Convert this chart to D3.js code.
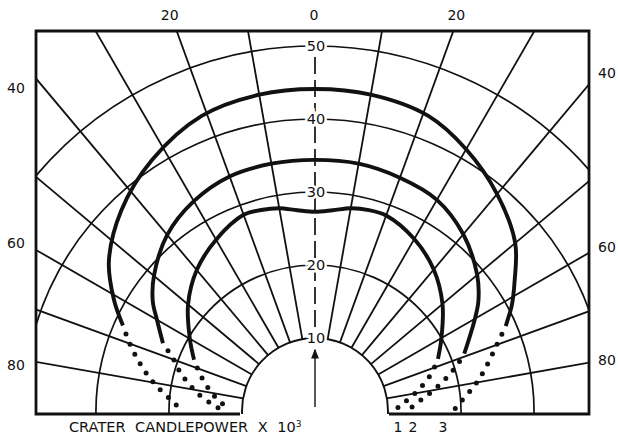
<!DOCTYPE html>
<html>
<head>
<meta charset="utf-8">
<script src="https://cdn.jsdelivr.net/npm/d3@7"></script>
<style>
  body { margin: 0; background: #fff; }
  text { font-family: "DejaVu Sans", sans-serif; fill: #111; }
</style>
</head>
<body>
<div id="chart"></div>
<script>
// grid values (candlepower x 10^3) and angles (degrees from the vertical)
const ringValues = [20, 30, 40, 50];
const ringLabels = [50, 40, 30, 20, 10];
const radialAngles = [-80, -70, -60, -50, -40, -30, -20, -10, 10, 20, 30, 40, 50, 60, 70, 80];
const topAngleLabels = [-20, 0, 20];
const sideAngleLabels = [40, 60, 80];
const curveNames = ['1', '2', '3'];

// curve 1 (inner)
const c1Angles = [-67, -60, -50, -40, -30, -20, -15, -10, -5, 0, 5, 10, 15, 20, 30, 40, 50, 60, 67];
const c1Values = [18.0, 19.8, 22.7, 25.2, 27.1, 28.6, 28.5, 28.2, 27.6, 27.3, 27.6, 28.2, 28.5, 28.5, 27.2, 25.3, 22.8, 20.0, 18.3];
const c1DotLeftAngles = [-67, -72, -77, -82, -86, -89];
const c1DotLeftValues = [18.0, 16.6, 15.2, 13.8, 12.6, 12.0];
const c1DotRightAngles = [67, 72, 77, 82, 86, 89];
const c1DotRightValues = [18.3, 16.8, 15.0, 13.2, 11.8, 11.0];

// curve 2 (middle)
const c2Angles = [-66, -60, -56, -50, -40, -30, -20, -10, 0, 10, 20, 30, 40, 50, 56, 60, 69];
const c2Values = [22.8, 25.0, 26.8, 28.8, 31.5, 33.2, 34.2, 34.4, 34.4, 34.4, 34.0, 33.4, 31.6, 29.0, 27.0, 25.3, 21.9];
const c2DotLeftAngles = [-66, -70, -74, -78, -82, -86, -89];
const c2DotLeftValues = [22.8, 20.6, 19.2, 17.6, 16.0, 14.2, 12.9];
const c2DotRightAngles = [69, 72, 76, 80, 84, 89];
const c2DotRightValues = [21.9, 20.5, 18.5, 16.5, 14.6, 12.9];

// curve 3 (outer)
const c3Angles = [-66, -61, -54, -44, -33, -21, -10, 0, 10, 21, 30, 40, 50, 57, 62, 66];
const c3Values = [28.8, 31.5, 34.9, 38.2, 41.0, 43.3, 44.0, 44.1, 44.0, 43.3, 41.4, 38.8, 35.8, 32.6, 30.5, 28.6];
const c3DotLeftAngles = [-66, -70, -74, -78, -82, -86, -89];
const c3DotLeftValues = [28.8, 27.0, 25.2, 23.4, 21.5, 19.6, 18.5];
const c3DotRightAngles = [66, 70, 74, 79, 83, 87, 89];
const c3DotRightValues = [28.6, 26.5, 24.8, 22.9, 21.3, 19.8, 19.2];

const w = 618, h = 440;
const frame = { left: 36, right: 589, top: 31, bottom: 414 };
const cx = 315, cy = 411;

const r = d3.scaleLinear().domain([0, 50]).range([0, 365]);
const a = d3.scaleLinear().domain([-180, 180]).range([-Math.PI, Math.PI]);

const svg = d3.select('#chart').append('svg')
  .attr('width', w).attr('height', h)
  .attr('viewBox', `0 0 ${w} ${h}`);

svg.append('clipPath').attr('id', 'frame-clip')
  .append('rect')
  .attr('x', frame.left).attr('y', frame.top)
  .attr('width', frame.right - frame.left)
  .attr('height', frame.bottom - frame.top);

const g = svg.append('g').attr('transform', `translate(${cx},${cy})`);
const grid = g.append('g').attr('clip-path', 'url(#frame-clip)')
  .attr('transform', `translate(${-cx},${-cy})`)
  .append('g').attr('transform', `translate(${cx},${cy})`);

const pt = (deg, v) => [r(v) * Math.sin(a(deg)), -r(v) * Math.cos(a(deg))];

// rings
const arc = d3.arc();
ringValues.forEach(v => {
  grid.append('path')
    .attr('d', arc({ innerRadius: r(v), outerRadius: r(v), startAngle: a(-100), endAngle: a(100) }))
    .attr('fill', 'none').attr('stroke', '#111').attr('stroke-width', 1.7);
});
// inner half circle (10)
grid.append('path')
  .attr('d', arc({ innerRadius: r(10), outerRadius: r(10), startAngle: a(-95), endAngle: a(95) }))
  .attr('fill', 'none').attr('stroke', '#111').attr('stroke-width', 1.9);

// radials
radialAngles.forEach(d => {
  const p0 = pt(d, 10), p1 = pt(d, 80);
  grid.append('line')
    .attr('x1', p0[0]).attr('y1', p0[1]).attr('x2', p1[0]).attr('y2', p1[1])
    .attr('stroke', '#111').attr('stroke-width', 1.8);
});

// dashed vertical axis
g.append('line')
  .attr('x1', 0).attr('x2', 0)
  .attr('y1', -r(48.5)).attr('y2', -r(10.8))
  .attr('stroke', '#111').attr('stroke-width', 1.7)
  .attr('stroke-dasharray', '17 6');

// frame
const fl = frame.left - cx, fr = frame.right - cx, ft = frame.top - cy, fb = frame.bottom - cy;
g.append('path')
  .attr('d', `M${-r(10) - 2},${fb} L${fl},${fb} L${fl},${ft} L${fr},${ft} L${fr},${fb} L${r(10) + 1},${fb}`)
  .attr('fill', 'none').attr('stroke', '#111').attr('stroke-width', 2.8);

// curves
const line = d3.lineRadial()
  .angle(d => a(d[0]))
  .radius(d => r(d[1]))
  .curve(d3.curveCatmullRom);

const zip = (as, vs) => as.map((d, i) => [d, vs[i]]);

const solids = [zip(c1Angles, c1Values), zip(c2Angles, c2Values), zip(c3Angles, c3Values)];
const dots = [
  zip(c1DotLeftAngles, c1DotLeftValues), zip(c1DotRightAngles, c1DotRightValues),
  zip(c2DotLeftAngles, c2DotLeftValues), zip(c2DotRightAngles, c2DotRightValues),
  zip(c3DotLeftAngles, c3DotLeftValues), zip(c3DotRightAngles, c3DotRightValues)
];

solids.forEach(s => {
  g.append('path').datum(s)
    .attr('d', line)
    .attr('fill', 'none').attr('stroke', '#111').attr('stroke-width', 3.9);
});
dots.forEach(s => {
  g.append('path').datum(s)
    .attr('d', line)
    .attr('fill', 'none').attr('stroke', '#111').attr('stroke-width', 5)
    .attr('stroke-linecap', 'round')
    .attr('stroke-dasharray', '0 11')
    .attr('stroke-dashoffset', -9);
});

// ring labels on the axis
ringLabels.forEach(v => {
  g.append('text')
    .attr('x', 1).attr('y', -r(v) + 5)
    .attr('text-anchor', 'middle')
    .attr('font-size', 14.5)
    .attr('stroke', '#fff').attr('stroke-width', 5)
    .attr('paint-order', 'stroke')
    .text(v);
});

// arrow
svg.append('defs').append('marker')
  .attr('id', 'arrow').attr('viewBox', '0 0 10 10')
  .attr('refX', 9).attr('refY', 5)
  .attr('markerWidth', 7).attr('markerHeight', 7)
  .attr('orient', 'auto')
  .append('path').attr('d', 'M0,1 L10,5 L0,9 Z').attr('fill', '#111');
g.append('line')
  .attr('x1', 0).attr('x2', 0).attr('y1', -4).attr('y2', -r(8.4))
  .attr('stroke', '#111').attr('stroke-width', 1.4)
  .attr('marker-end', 'url(#arrow)');

// angle labels
const topShift = { '-20': -7, '0': -1, '20': 3 };
topAngleLabels.forEach(d => {
  const x = (frame.top - cy) * -Math.tan(a(d));
  g.append('text')
    .attr('x', x + topShift[d])
    .attr('y', 20 - cy)
    .attr('text-anchor', 'middle')
    .attr('font-size', 14)
    .text(Math.abs(d));
});
const sideShiftL = { 40: 9, 60: -7, 80: 3 };
const sideShiftR = { 40: -11, 60: -6, 80: -3 };
sideAngleLabels.forEach(d => {
  const yl = -(cx - frame.left) / Math.tan(a(d));
  const yr = -(frame.right - cx) / Math.tan(a(d));
  g.append('text')
    .attr('x', 16 - cx).attr('y', yl + sideShiftL[d] + 5)
    .attr('text-anchor', 'middle').attr('font-size', 14)
    .text(d);
  g.append('text')
    .attr('x', 607 - cx).attr('y', yr + sideShiftR[d] + 5)
    .attr('text-anchor', 'middle').attr('font-size', 14)
    .text(d);
});

// bottom captions
const cap = svg.append('text')
  .attr('x', 69).attr('y', 432)
  .attr('font-size', 14.5)
  .attr('word-spacing', 5);
cap.append('tspan').text('CRATER CANDLEPOWER X 10');
cap.append('tspan').attr('dy', -5).attr('font-size', 9).text('3');

const nameX = [398, 413, 443];
curveNames.forEach((n, i) => {
  svg.append('text')
    .attr('x', nameX[i]).attr('y', 432)
    .attr('text-anchor', 'middle')
    .attr('font-size', 14)
    .text(n);
});
</script>
</body>
</html>
